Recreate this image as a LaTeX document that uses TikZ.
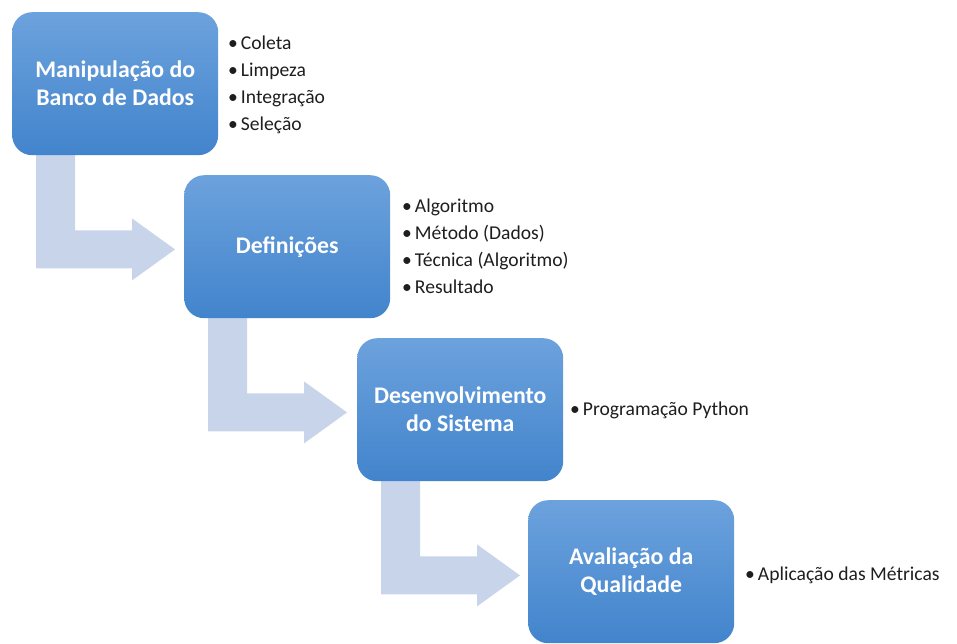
\documentclass[tikz,border=0pt]{standalone}
\usepackage{fontspec}
\setmainfont{Carlito}
\usetikzlibrary{calc,backgrounds}
\definecolor{arrowc}{RGB}{200,212,234}
\definecolor{boxtop}{RGB}{108,162,221}
\definecolor{boxbot}{RGB}{66,132,204}
\definecolor{txt}{RGB}{30,30,30}
\begin{document}
\begin{tikzpicture}[x=1pt,y=-1pt,
  stepbox/.style={draw=none, rounded corners=20pt, minimum width=206pt, minimum height=143pt,
    top color=boxtop, bottom color=boxbot, text=white,
    font=\fontsize{23.8}{28}\selectfont\bfseries, align=center, inner sep=0pt, anchor=north west},
  bul/.style={anchor=west, font=\fontsize{19.6}{27}\selectfont, text=txt, align=left, inner sep=0pt},
  bendarrow/.style={fill=arrowc, draw=none}]
\useasboundingbox (0,0) rectangle (957,643);
\node[stepbox] (b1) at (12,12)  {Manipulação do\\Banco de Dados};
\node[stepbox] (b2) at (184,175) {Definições};
\node[stepbox] (b3) at (357,338) {Desenvolvimento\\do Sistema};
\node[stepbox] (b4) at (528,500) {Avaliação da\\Qualidade};
\node[bul] (l1) at (228,84.5) {•\hspace{3pt}Coleta\\•\hspace{3pt}Limpeza\\•\hspace{3pt}Integração\\•\hspace{3pt}Seleção};
\node[bul] (l2) at (402,246) {•\hspace{3pt}Algoritmo\\•\hspace{3pt}Método (Dados)\\•\hspace{3pt}Técnica (Algoritmo)\\•\hspace{3pt}Resultado};
\node[bul] (l3) at (570,410) {•\hspace{3pt}Programação Python};
\node[bul] (l4) at (745,575) {•\hspace{3pt}Aplicação das Métricas};
\begin{scope}[on background layer]
\foreach \a in {b1,b2,b3}{
  \fill[bendarrow, shift={(\a.south west)}]
    (24,-13) -- (63,-13) -- (63,75) -- (120,75) -- (120,63) -- (163,94)
    -- (120,125) -- (120,113) -- (24,113) -- cycle;
}
\end{scope}
\end{tikzpicture}
\end{document}
